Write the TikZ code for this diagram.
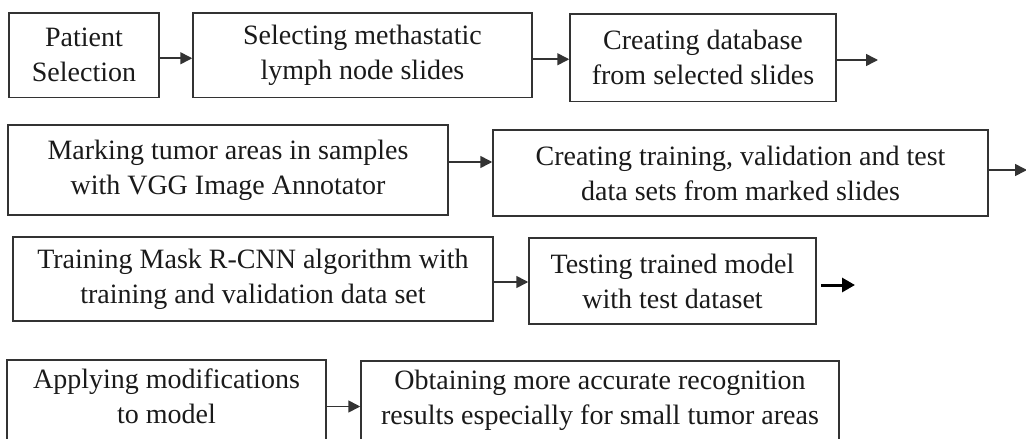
\documentclass[tikz,border=0pt]{standalone}
\usepackage{fontspec}
\setmainfont{Liberation Serif}
\usetikzlibrary{arrows.meta}
\definecolor{inkgray}{HTML}{333333}
\definecolor{textgray}{HTML}{1A1A1A}
\tikzset{
  stepbox/.style={draw=inkgray, line width=1.5pt, inner sep=0pt, align=center,
    text=textgray, font=\fontsize{28}{35}\selectfont},
  flow/.style={draw=inkgray, line width=1.6pt,
    -{Triangle[length=12pt,width=12pt]}},
  flowbold/.style={draw=black, line width=3pt,
    -{Triangle[length=13pt,width=14pt]}}
}
\begin{document}
\begin{tikzpicture}[x=1pt,y=-1pt]
\useasboundingbox (0,0) rectangle (1026,439);

% first row
\node[stepbox, minimum width=150pt, minimum height=84.5pt] (b1) at (84,55.25)
  {Patient\\Selection};
\node[stepbox, minimum width=339pt, minimum height=84.5pt] (b2) at (362.5,55.25)
  {Selecting methastatic\\lymph node slides};
\node[stepbox, minimum width=266pt, minimum height=87.5pt] (b3) at (703,57.75)
  {Creating database\\from selected slides};

% second row
\node[stepbox, minimum width=440pt, minimum height=90pt] (b4) at (228,170)
  {Marking tumor areas in samples\\with VGG Image Annotator};
\node[stepbox, minimum width=495pt, minimum height=86pt] (b5) at (740.5,173)
  {Creating training, validation and test\\data sets from marked slides};

% third row
\node[stepbox, minimum width=480pt, minimum height=84pt] (b6) at (253,279)
  {Training Mask R-CNN algorithm with\\training and validation data set};
\node[stepbox, minimum width=287pt, minimum height=86pt] (b7) at (672.5,281)
  {Testing trained model\\with test dataset};

% fourth row (runs past the lower edge)
\node[stepbox, minimum width=319pt, minimum height=85pt, text depth=12pt] (b8) at (166.5,402.5)
  {Applying modifications\\to model};
\node[stepbox, minimum width=478pt, minimum height=84pt, text depth=12pt] (b9) at (600,403)
  {Obtaining more accurate recognition\\results especially for small tumor areas};

% open ends of the row-closing arrows
\coordinate (e3) at (878,60);
\coordinate (e5) at (1027,170);
\coordinate (e7) at (855,285);

% connectors
\draw[flow] ([yshift=-3pt]b1.east) -- ([yshift=-3pt]b1.east -| b2.west);
\draw[flow] ([yshift=-4pt]b2.east) -- ([yshift=-4pt]b2.east -| b3.west);
\draw[flow] (b3.east |- e3) -- (e3);
\draw[flow] ([yshift=8pt]b4.east) -- ([yshift=8pt]b4.east -| b5.west);
\draw[flow] (b5.east |- e5) -- (e5);
\draw[flow] ([yshift=-3pt]b6.east) -- ([yshift=-3pt]b6.east -| b7.west);
\draw[flowbold] ([xshift=4pt]b7.east |- e7) -- (e7);
\draw[flow] ([yshift=-4pt]b8.east) -- ([yshift=-4pt]b8.east -| b9.west);
\end{tikzpicture}
\end{document}
